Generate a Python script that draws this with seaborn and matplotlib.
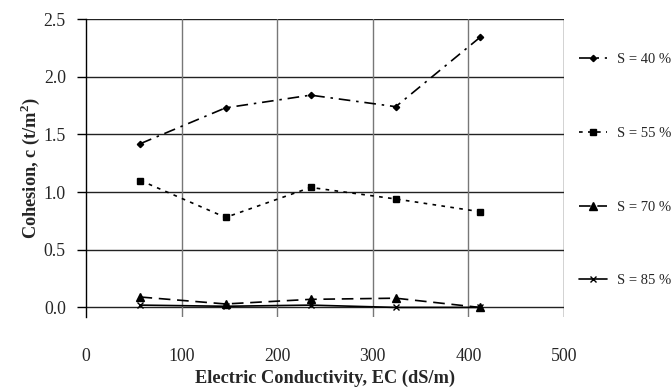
import pandas as pd
import matplotlib
matplotlib.use("Agg")
import matplotlib.pyplot as plt
import seaborn as sns

# data
ec = [57, 146, 235, 324, 412]
s40 = [1.42, 1.73, 1.84, 1.74, 2.34]
s55 = [1.10, 0.78, 1.04, 0.94, 0.83]
s70 = [0.09, 0.03, 0.07, 0.08, 0.00]
s85 = [0.02, 0.01, 0.02, 0.00, 0.00]
labels = ["S = 40 %", "S = 55 %", "S = 70 %", "S = 85 %"]
x_ticks = [0, 100, 200, 300, 400, 500]
y_ticks = [0.0, 0.5, 1.0, 1.5, 2.0, 2.5]

sns.set_style("white")
plt.rcParams["font.family"] = ["Liberation Serif", "DejaVu Serif"]
plt.rcParams["mathtext.fontset"] = "custom"
plt.rcParams["mathtext.rm"] = "Liberation Serif"
plt.rcParams["mathtext.bf"] = "Liberation Serif:bold"

fig = plt.figure(figsize=(6.72, 3.88), dpi=100)
ax = fig.add_axes([86 / 672, 1 - 317 / 388, (564 - 86) / 672, (317 - 19) / 388])

styles = [
    dict(marker="D", markersize=3.2, linestyle=(0, (7, 3.5, 1.5, 3.5))),
    dict(marker="s", markersize=4.2, linestyle=(0, (2.2, 3.2))),
    dict(marker="^", markersize=5.5, linestyle=(0, (7, 4))),
    dict(marker="x", markersize=4, linestyle="-"),
]
for vals, lab, st in zip([s40, s55, s70, s85], labels, styles):
    df = pd.DataFrame({"EC": ec, "c": vals})
    sns.lineplot(data=df, x="EC", y="c", ax=ax, color="black", lw=1.2,
                 mec="black", mfc="black", mew=1.0, label=lab, **st)

ax.set_xlim(0, 500)
ax.set_ylim(-0.083, 2.5)
ax.set_xticks(x_ticks)
ax.set_yticks(y_ticks)
ax.set_yticklabels([f"{v:.1f}" for v in y_ticks])

# grid: black horizontals, grey verticals
for v in y_ticks:
    ax.axhline(v, color="#222222", lw=1.0, zorder=0)
for v in x_ticks[1:-1]:
    ax.axvline(v, color="#777777", lw=1.0, zorder=0)

for side in ["top", "right", "bottom"]:
    ax.spines[side].set_visible(False)
ax.spines["left"].set_color("black")
ax.spines["left"].set_linewidth(1.0)
ax.axvline(500, color="#222222", lw=1.0, zorder=0)

ax.tick_params(axis="y", direction="out", length=6.5, width=1.0, color="black",
               pad=8, labelsize=12.8, left=True)
ax.tick_params(axis="x", length=0, pad=22, labelsize=12.8)

ax.set_xlabel("Electric Conductivity, EC (dS/m)", fontsize=13.2, fontweight="bold", labelpad=4)
ax.set_ylabel(r"Cohesion, c (t/m$^{\mathbf{2}}$)", fontsize=13.2, fontweight="bold", labelpad=1)

ax.legend(loc="upper left", bbox_to_anchor=(579 / 672, 1 - 53 / 388),
          bbox_transform=fig.transFigure, frameon=False, fontsize=10.5,
          labelspacing=4.15, handlelength=1.95, handletextpad=0.65,
          borderpad=0, borderaxespad=0)

fig.savefig("out.png", dpi=100)
